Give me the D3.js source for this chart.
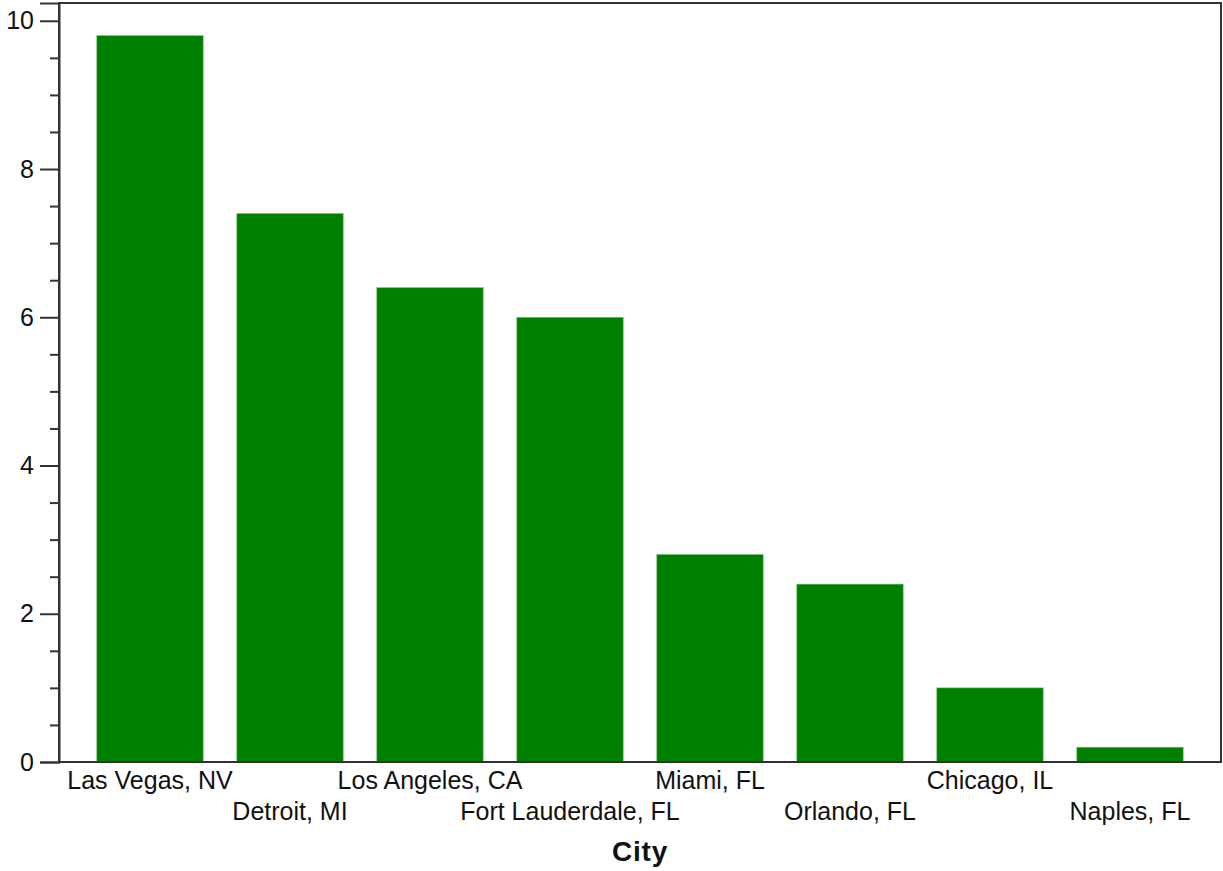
<!DOCTYPE html>
<html>
<head>
<meta charset="utf-8">
<script src="https://cdn.jsdelivr.net/npm/d3@7"></script>
<style>
  html, body { margin: 0; padding: 0; background: #fff; }
  svg { display: block; }
  text { font-family: "Liberation Sans", Arial, sans-serif; }
</style>
</head>
<body>
<svg id="chart" width="1223" height="871"></svg>
<script>
const categories = ["Las Vegas, NV", "Detroit, MI", "Los Angeles, CA", "Fort Lauderdale, FL",
                    "Miami, FL", "Orlando, FL", "Chicago, IL", "Naples, FL"];
const values = [9.8, 7.4, 6.4, 6.0, 2.8, 2.4, 1.0, 0.2];
const majorTicks = [0, 2, 4, 6, 8, 10];
const minorTicks = [0.5, 1, 1.5, 2.5, 3, 3.5, 4.5, 5, 5.5, 6.5, 7, 7.5, 8.5, 9, 9.5];
const xTitle = "City";

const svg = d3.select("#chart");
const mLeft = 59, mRight = 1221, mTop = 3, mBottom = 762;

const x = d3.scaleBand().domain(categories).range([mLeft, mRight])
  .paddingInner(0.24).paddingOuter(0.27);
const y = d3.scaleLinear().domain([0, 10.24]).range([mBottom, mTop]);

// bars
svg.append("g").selectAll("rect").data(values).join("rect")
  .attr("x", (d, i) => x(categories[i]))
  .attr("y", d => y(d))
  .attr("width", x.bandwidth())
  .attr("height", d => y(0) - y(d))
  .attr("fill", "#008000")
  .attr("stroke", "#7fbf7f")
  .attr("stroke-width", 0.6);

// frame
svg.append("rect")
  .attr("x", mLeft).attr("y", mTop)
  .attr("width", mRight - mLeft).attr("height", mBottom - mTop)
  .attr("fill", "none").attr("stroke", "#333").attr("stroke-width", 2);

// y axis major ticks
const yAxis = d3.axisLeft(y).tickValues(majorTicks).tickSize(19).tickPadding(6)
  .tickFormat(d3.format("d"));
const gy = svg.append("g").attr("transform", `translate(${mLeft},0)`).call(yAxis);
gy.select(".domain").attr("stroke", "#333").attr("stroke-width", 2);
gy.selectAll(".tick line").attr("stroke", "#333").attr("stroke-width", 2);
gy.selectAll(".tick text").attr("font-size", 25).attr("fill", "#111")
  .attr("font-family", "'Liberation Sans', Arial, sans-serif");

// minor ticks
const yMinor = d3.axisLeft(y).tickValues(minorTicks).tickSize(9).tickFormat("");
const gm = svg.append("g").attr("transform", `translate(${mLeft},0)`).call(yMinor);
gm.select(".domain").remove();
gm.selectAll(".tick line").attr("stroke", "#333").attr("stroke-width", 2);

// x labels staggered
svg.append("g").selectAll("text").data(categories).join("text")
  .attr("x", d => x(d) + x.bandwidth() / 2)
  .attr("y", (d, i) => i % 2 === 0 ? 789 : 820)
  .attr("text-anchor", "middle")
  .attr("font-size", 25)
  .attr("fill", "#111")
  .text(d => d);

// x title
svg.append("text")
  .attr("x", (mLeft + mRight) / 2)
  .attr("y", 861)
  .attr("text-anchor", "middle")
  .attr("font-size", 28)
  .attr("letter-spacing", 0.8)
  .attr("font-weight", "bold")
  .attr("fill", "#111")
  .text(xTitle);
</script>
</body>
</html>
